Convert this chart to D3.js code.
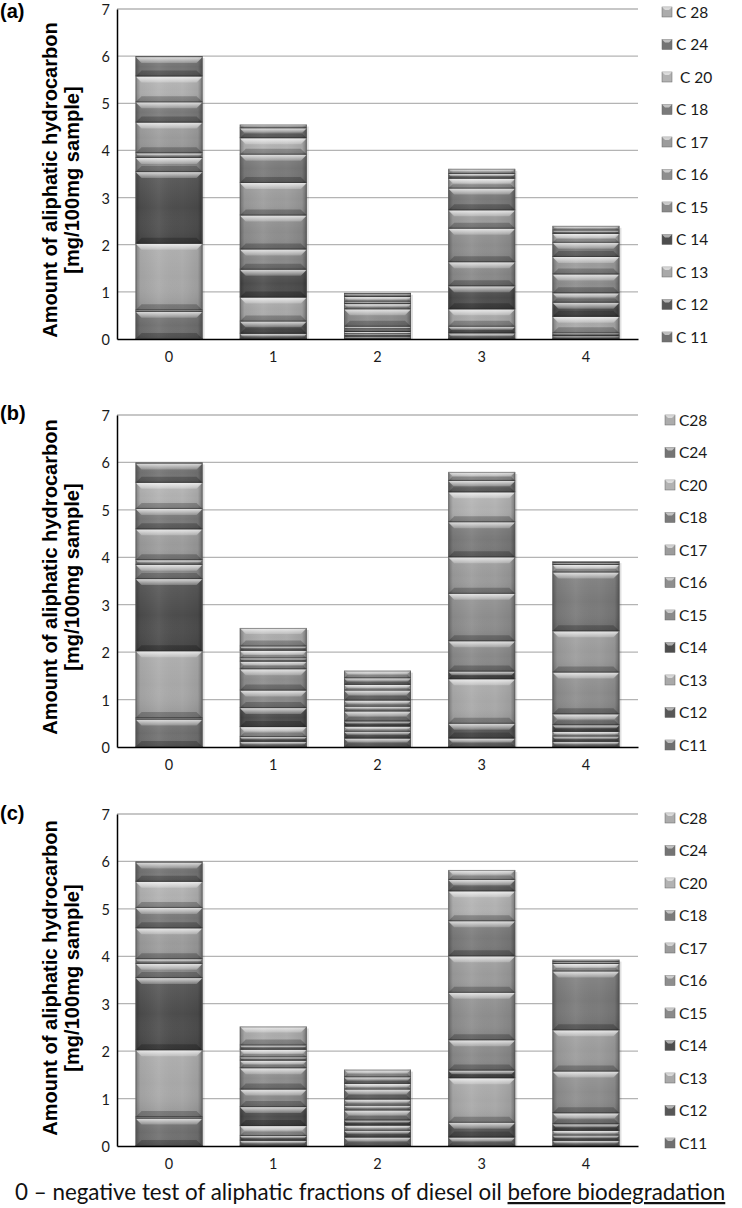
<!DOCTYPE html>
<html><head><meta charset="utf-8">
<script src="https://cdn.jsdelivr.net/npm/d3@7"></script>
<style>body{margin:0;background:#fff}svg{display:block}</style>
</head><body>
<svg id="chart" width="742" height="1208"></svg>
<script>
// ---------- data ----------
const categories = ["0", "1", "2", "3", "4"];
const seriesNames = ["C11", "C12", "C13", "C14", "C15", "C16", "C17", "C18", "C20", "C24", "C28"];
const legendLabelsA = ["C 11", "C 12", "C 13", "C 14", "C 15", "C 16", "C 17", "C 18", " C 20", "C 24", "C 28"];
const legendLabelsB = ["C11", "C12", "C13", "C14", "C15", "C16", "C17", "C18", "C20", "C24", "C28"];
const legendLabelsC = ["C11", "C12", "C13", "C14", "C15", "C16", "C17", "C18", "C20", "C24", "C28"];
const yTicks = [0, 1, 2, 3, 4, 5, 6, 7];
// values per bar (category), in series order C11..C28
const valuesA = [
  [0.58, 0.03, 1.41, 1.52, 0.30, 0.10, 0.65, 0.43, 0.55, 0.41, 0.02],
  [0.11, 0.26, 0.51, 0.59, 0.43, 0.72, 0.69, 0.60, 0.35, 0.21, 0.08],
  [0.05, 0.05, 0.05, 0.05, 0.06, 0.37, 0.11, 0.05, 0.10, 0.06, 0.03],
  [0.12, 0.14, 0.37, 0.49, 0.51, 0.71, 0.39, 0.46, 0.21, 0.10, 0.11],
  [0.06, 0.06, 0.35, 0.30, 0.20, 0.40, 0.37, 0.30, 0.19, 0.07, 0.10]
];
const valuesB = [
  [0.58, 0.03, 1.41, 1.52, 0.30, 0.10, 0.65, 0.43, 0.55, 0.41, 0.02],
  [0.11, 0.10, 0.21, 0.40, 0.37, 0.45, 0.16, 0.07, 0.16, 0.09, 0.39],
  [0.18, 0.14, 0.11, 0.11, 0.21, 0.10, 0.13, 0.21, 0.12, 0.14, 0.16],
  [0.18, 0.31, 0.94, 0.16, 0.64, 1.00, 0.77, 0.74, 0.63, 0.24, 0.19],
  [0.11, 0.11, 0.10, 0.14, 0.23, 0.88, 0.87, 1.24, 0.16, 0.04, 0.04]
];
const valuesC = [
  [0.58, 0.03, 1.41, 1.52, 0.30, 0.10, 0.65, 0.43, 0.55, 0.41, 0.02],
  [0.11, 0.10, 0.21, 0.40, 0.37, 0.45, 0.16, 0.07, 0.16, 0.09, 0.40],
  [0.18, 0.14, 0.11, 0.11, 0.21, 0.10, 0.13, 0.21, 0.12, 0.14, 0.16],
  [0.18, 0.31, 0.94, 0.16, 0.64, 1.00, 0.77, 0.74, 0.63, 0.24, 0.21],
  [0.11, 0.11, 0.10, 0.14, 0.23, 0.88, 0.87, 1.24, 0.16, 0.04, 0.05]
];
const panelLetters = ["(a)", "(b)", "(c)"];
const yTitle1 = "Amount of aliphatic hydrocarbon";
const yTitle2 = "[mg/100mg sample]";
const footerPlain = "0 \u2013 negative test of aliphatic fractions of diesel oil ";
const footerUnderlined = "before biodegradation";
const seriesColors = ["#707070", "#575757", "#a9a9a9", "#4d4d4d", "#8a8a8a", "#8e8e8e",
                      "#9c9c9c", "#7a7a7a", "#b2b2b2", "#747474", "#acacac"];

// ---------- layout ----------
const panels = [
  {values: valuesA, legend: legendLabelsA, top: 9,   bottom: 339,  letterY: 18,  titleCY: 180, legX: 662, legTop: 12,  legBot: 337},
  {values: valuesB, legend: legendLabelsB, top: 415, bottom: 747,  letterY: 420, titleCY: 577, legX: 665, legTop: 420, legBot: 745},
  {values: valuesC, legend: legendLabelsC, top: 814, bottom: 1146, letterY: 820, titleCY: 978, legX: 665, legTop: 818, legBot: 1143}
];
const plotLeft = 117, plotRight = 638;
const tickFont = "Lato, 'Open Sans', sans-serif";
const boldFont = "'Liberation Sans', Arial, sans-serif";

const svg = d3.select("#chart");
const defs = svg.append("defs");
const hg = defs.append("linearGradient").attr("id", "hshade").attr("x1", 0).attr("x2", 1).attr("y1", 0).attr("y2", 0);
[[0, "#000", 0.30], [0.07, "#000", 0.05], [0.35, "#fff", 0.06], [0.7, "#000", 0.0], [0.93, "#000", 0.08], [1, "#000", 0.35]]
  .forEach(s => hg.append("stop").attr("offset", s[0]).attr("stop-color", s[1]).attr("stop-opacity", s[2]));
const vg = defs.append("linearGradient").attr("id", "vshade").attr("x1", 0).attr("x2", 0).attr("y1", 0).attr("y2", 1);
[[0, "#fff", 0.10], [0.5, "#fff", 0.0], [1, "#000", 0.12]]
  .forEach(s => vg.append("stop").attr("offset", s[0]).attr("stop-color", s[1]).attr("stop-opacity", s[2]));
const tg = defs.append("linearGradient").attr("id", "topbevel").attr("x1", 0).attr("x2", 0).attr("y1", 0).attr("y2", 1);
[[0, "#fff", 0.75], [1, "#fff", 0.2]]
  .forEach(s => tg.append("stop").attr("offset", s[0]).attr("stop-color", s[1]).attr("stop-opacity", s[2]));

const x = d3.scaleBand().domain(categories).range([plotLeft, plotRight]).paddingInner(0.357).paddingOuter(0.178);
const color = d3.scaleOrdinal().domain(seriesNames).range(seriesColors);

panels.forEach((p, pi) => {
  const g = svg.append("g");
  const y = d3.scaleLinear().domain([0, 7]).range([p.bottom, p.top]);

  // gridlines
  g.append("g").selectAll("line").data(yTicks.filter(t => t > 0)).join("line")
    .attr("x1", plotLeft).attr("x2", plotRight)
    .attr("y1", d => y(d)).attr("y2", d => y(d))
    .attr("stroke", "#b4b4b4").attr("stroke-width", 1.3);

  // stacked bars
  const rows = categories.map((c, i) => {
    const o = {cat: c};
    seriesNames.forEach((s, j) => o[s] = p.values[i][j]);
    return o;
  });
  const stacked = d3.stack().keys(seriesNames)(rows);

  // bar shadows
  g.append("g").selectAll("rect").data(rows).join("rect")
    .attr("x", d => x(d.cat) + 2).attr("width", x.bandwidth())
    .attr("y", d => y(d3.sum(seriesNames, s => d[s])) + 2)
    .attr("height", d => p.bottom - y(d3.sum(seriesNames, s => d[s])) - 1)
    .attr("fill", "#000").attr("opacity", 0.12);

  stacked.forEach(layer => {
    const lg = g.append("g");
    layer.forEach(seg => {
      const sx = x(seg.data.cat), w = x.bandwidth();
      const y0 = y(seg[1]), y1 = y(seg[0]);
      const h = y1 - y0;
      if (h <= 0.2) return;
      const sg = lg.append("g");
      sg.append("rect").attr("x", sx).attr("y", y0).attr("width", w).attr("height", h).attr("fill", color(layer.key));
      sg.append("rect").attr("x", sx).attr("y", y0).attr("width", w).attr("height", h).attr("fill", "url(#vshade)");
      sg.append("rect").attr("x", sx).attr("y", y0).attr("width", w).attr("height", h).attr("fill", "url(#hshade)");
      const b = Math.min(6, h * 0.45);
      sg.append("path")
        .attr("d", `M${sx},${y0}L${sx + w},${y0}L${sx + w - b},${y0 + b}L${sx + b},${y0 + b}Z`)
        .attr("fill", "url(#topbevel)");
      sg.append("path")
        .attr("d", `M${sx},${y1}L${sx + b},${y1 - b}L${sx + w - b},${y1 - b}L${sx + w},${y1}Z`)
        .attr("fill", "#000").attr("opacity", 0.22);
      sg.append("line").attr("x1", sx).attr("x2", sx + w).attr("y1", y1 - 0.5).attr("y2", y1 - 0.5)
        .attr("stroke", "#2a2a2a").attr("stroke-opacity", 0.55).attr("stroke-width", 1);
    });
  });

  // bar outlines
  g.append("g").selectAll("rect").data(rows).join("rect")
    .attr("x", d => x(d.cat) + 0.5).attr("width", x.bandwidth() - 1)
    .attr("y", d => y(d3.sum(seriesNames, s => d[s])) + 0.5)
    .attr("height", d => p.bottom - y(d3.sum(seriesNames, s => d[s])) - 1)
    .attr("fill", "none").attr("stroke", "#555").attr("stroke-opacity", 0.6);

  // axes
  const ya = g.append("g").attr("transform", `translate(${plotLeft},0)`)
    .call(d3.axisLeft(y).tickValues(yTicks).tickFormat(d3.format("d")).tickSize(0).tickPadding(7));
  ya.select(".domain").attr("stroke", "#000").attr("stroke-width", 1.5);
  ya.selectAll("text").attr("font-family", tickFont).attr("font-size", 14.5).attr("fill", "#1a1a1a").attr("dy", "0.38em");

  const xa = g.append("g").attr("transform", `translate(0,${p.bottom})`)
    .call(d3.axisBottom(x).tickSize(0).tickPadding(13));
  xa.select(".domain").attr("stroke", "#000").attr("stroke-width", 1.5);
  xa.selectAll("text").attr("font-family", tickFont).attr("font-size", 14.5).attr("fill", "#1a1a1a");

  // legend (top item = last series)
  const ly = d3.scalePoint().domain(seriesNames.slice().reverse()).range([p.legTop, p.legBot]);
  const leg = g.append("g");
  seriesNames.forEach((s, j) => {
    const cy = ly(s);
    leg.append("rect").attr("x", p.legX).attr("y", cy - 5).attr("width", 10).attr("height", 10)
      .attr("fill", color(s)).attr("stroke", "#666").attr("stroke-width", 0.5);
    leg.append("path").attr("d", `M${p.legX},${cy - 5}L${p.legX + 10},${cy - 5}L${p.legX + 7},${cy - 2}L${p.legX + 3},${cy - 2}Z`)
      .attr("fill", "#fff").attr("opacity", 0.55);
    leg.append("text").attr("x", p.legX + 14).attr("y", cy).attr("dy", "0.36em")
      .attr("font-family", tickFont).attr("font-size", 15.5).attr("fill", "#1a1a1a")
      .style("white-space", "pre").text(p.legend[j]);
  });

  // panel letter
  g.append("text").attr("x", 0).attr("y", p.letterY).text(panelLetters[pi])
    .attr("font-family", boldFont).attr("font-weight", "bold").attr("font-size", 20).attr("fill", "#000");

  // y title
  const t1 = g.append("text").attr("transform", `translate(50,${p.titleCY}) rotate(-90)`)
    .attr("text-anchor", "middle").attr("dy", "0.36em")
    .attr("font-family", boldFont).attr("font-weight", "bold").attr("font-size", 18).text(yTitle1);
  const len = t1.node().getComputedTextLength();
  const fs = 18 * 316 / len;
  t1.attr("font-size", fs);
  g.append("text").attr("transform", `translate(72,${p.titleCY}) rotate(-90)`)
    .attr("text-anchor", "middle").attr("dy", "0.36em")
    .attr("font-family", boldFont).attr("font-weight", "bold").attr("font-size", fs).text(yTitle2);
});

// footer
const ft = svg.append("text").attr("x", 15).attr("y", 1200)
  .attr("font-family", tickFont).attr("font-size", 21).attr("fill", "#111");
ft.append("tspan").style("white-space", "pre").text(footerPlain);
ft.append("tspan").attr("text-decoration", "underline").text(footerUnderlined);
const fl = ft.node().getComputedTextLength();
ft.attr("font-size", 21 * 711 / fl);
</script>
</body></html>
